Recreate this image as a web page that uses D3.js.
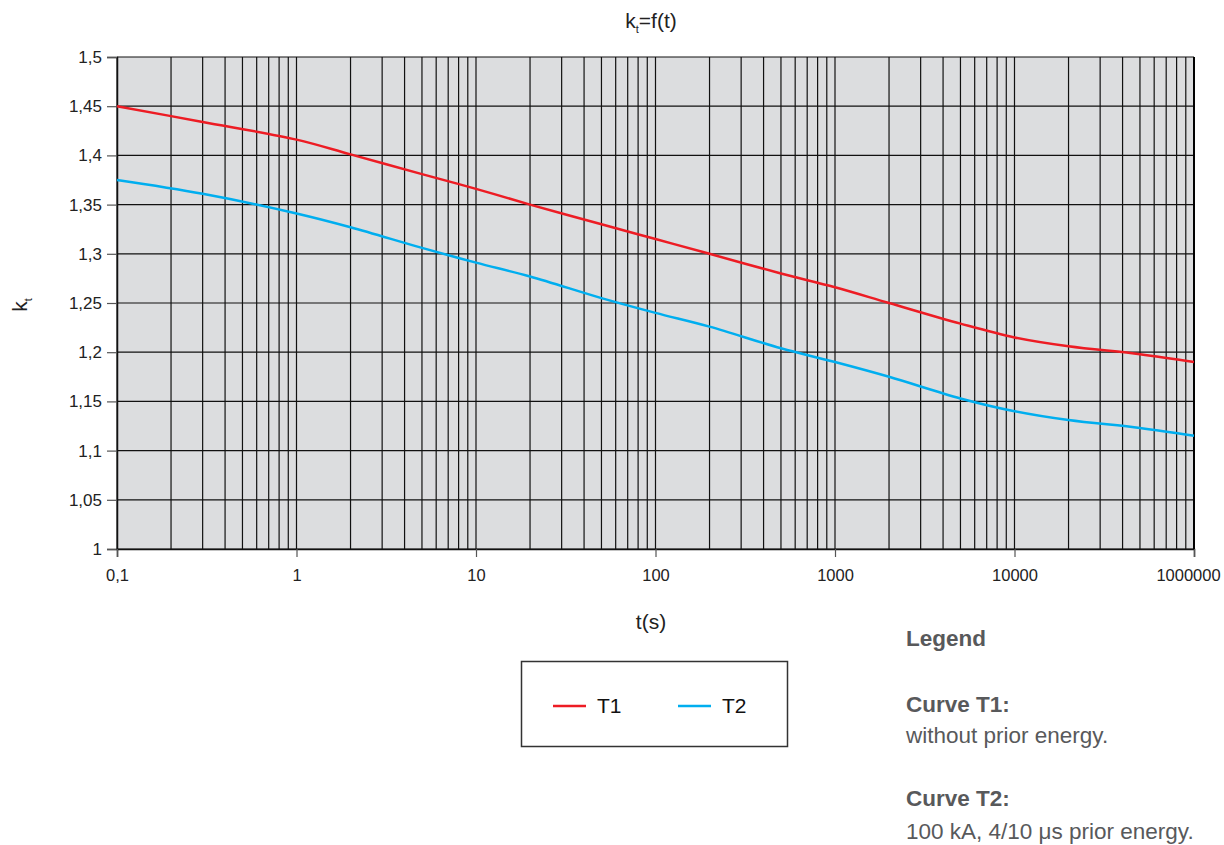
<!DOCTYPE html>
<html>
<head>
<meta charset="utf-8">
<script src="https://cdn.jsdelivr.net/npm/d3@7"></script>
<style>
  body { margin: 0; background: #fff; }
  svg text { font-family: "Liberation Sans", Arial, sans-serif; }
</style>
</head>
<body>
<svg id="chart" width="1224" height="845"></svg>
<script>
// time points (s) and the two curves
const times = [0.1, 0.3, 1, 2, 5, 10, 20, 50, 100, 200, 500, 1000, 2000, 5000, 10000, 20000, 50000, 100000];
const t1 = [1.45, 1.434, 1.416, 1.401, 1.381, 1.366, 1.350, 1.330, 1.315, 1.300, 1.280, 1.266, 1.250, 1.229, 1.215, 1.206, 1.198, 1.190];
const t2 = [1.375, 1.361, 1.341, 1.327, 1.306, 1.291, 1.277, 1.255, 1.240, 1.226, 1.204, 1.190, 1.175, 1.153, 1.140, 1.131, 1.123, 1.115];

const xTickValues = [0.1, 1, 10, 100, 1000, 10000, 100000];
const xTickLabels = ['0,1', '1', '10', '100', '1000', '10000', '1000000'];
const yTickValues = [1, 1.05, 1.1, 1.15, 1.2, 1.25, 1.3, 1.35, 1.4, 1.45, 1.5];
const yTickLabels = ['1', '1,05', '1,1', '1,15', '1,2', '1,25', '1,3', '1,35', '1,4', '1,45', '1,5'];

const seriesNames = ['T1', 'T2'];
const seriesColors = ['#ed1c24', '#00aeef'];

const margin = {top: 57, left: 117};
const width = 1194 - 117, height = 549 - 57;

const svg = d3.select('#chart');

const x = d3.scaleLog().domain([0.1, 100000]).range([0, width]);
const y = d3.scaleLinear().domain([1, 1.5]).range([height, 0]);

const g = svg.append('g').attr('transform', `translate(${margin.left},${margin.top})`);

g.append('rect')
  .attr('width', width).attr('height', height)
  .attr('fill', '#dcdddf');

// minor + major vertical grid
let gridX = [];
for (let e = -1; e < 5; e++) {
  for (let m = 1; m < 10; m++) gridX.push(m * Math.pow(10, e));
}
gridX.push(100000);

g.selectAll('.vgrid')
  .data(gridX)
  .enter().append('line')
  .attr('class', 'vgrid')
  .attr('x1', d => x(d)).attr('x2', d => x(d))
  .attr('y1', 0).attr('y2', height)
  .attr('stroke', '#111')
  .attr('stroke-width', 1.2);

g.selectAll('.hgrid')
  .data(yTickValues)
  .enter().append('line')
  .attr('class', 'hgrid')
  .attr('x1', 0).attr('x2', width)
  .attr('y1', d => y(d)).attr('y2', d => y(d))
  .attr('stroke', '#111')
  .attr('stroke-width', 1.2);

// axes
const yAxis = g.append('g')
  .call(d3.axisLeft(y).tickValues(yTickValues).tickFormat((d, i) => yTickLabels[i]).tickSize(10).tickPadding(5));
yAxis.select('.domain').attr('stroke', '#111').attr('stroke-width', 1.5);
yAxis.selectAll('.tick line').attr('stroke', '#555').attr('stroke-width', 1.2);
yAxis.selectAll('text').attr('font-size', 17).attr('fill', '#222');

const xAxis = g.append('g')
  .attr('transform', `translate(0,${height})`)
  .call(d3.axisBottom(x).tickValues(xTickValues).tickFormat((d, i) => xTickLabels[i]).tickSize(8).tickPadding(12));
xAxis.select('.domain').attr('stroke', '#111').attr('stroke-width', 1.5);
xAxis.selectAll('.tick line').attr('stroke', '#555').attr('stroke-width', 1.2);
xAxis.selectAll('text').attr('font-size', 16.5).attr('fill', '#222');
// last label sits at the right edge, nudge it in so it stays on the page
xAxis.selectAll('.tick').filter(d => d === 100000).select('text').attr('dx', -6);

g.append('line')
  .attr('x1', width).attr('x2', width).attr('y1', 0).attr('y2', height)
  .attr('stroke', '#000').attr('stroke-width', 2);

// curves
const line = d3.line()
  .x(d => x(d[0]))
  .y(d => y(d[1]))
  .curve(d3.curveCatmullRom.alpha(0.5));

[t1, t2].forEach((vals, i) => {
  g.append('path')
    .datum(times.map((t, j) => [t, vals[j]]))
    .attr('fill', 'none')
    .attr('stroke', seriesColors[i])
    .attr('stroke-width', 2.5)
    .attr('d', line);
});

// title and axis labels
const title = svg.append('text')
  .attr('x', 651).attr('y', 28)
  .attr('text-anchor', 'middle')
  .attr('font-size', 21).attr('fill', '#222');
title.append('tspan').text('k');
title.append('tspan').attr('font-size', 11).attr('dy', 5).text('t');
title.append('tspan').attr('dy', -5).text('=f(t)');

const ylab = svg.append('text')
  .attr('transform', 'translate(27,305) rotate(-90)')
  .attr('text-anchor', 'middle')
  .attr('font-size', 21).attr('fill', '#222');
ylab.append('tspan').text('k');
ylab.append('tspan').attr('font-size', 11).attr('dy', 5).text('t');

svg.append('text')
  .attr('x', 651).attr('y', 629)
  .attr('text-anchor', 'middle')
  .attr('font-size', 21).attr('fill', '#222')
  .text('t(s)');

// legend box
svg.append('rect')
  .attr('x', 521.5).attr('y', 661.5).attr('width', 266).attr('height', 85)
  .attr('fill', 'none').attr('stroke', '#333').attr('stroke-width', 1.5);

const legendX = [553, 678];
seriesNames.forEach((name, i) => {
  svg.append('line')
    .attr('x1', legendX[i]).attr('x2', legendX[i] + 33)
    .attr('y1', 706).attr('y2', 706)
    .attr('stroke', seriesColors[i]).attr('stroke-width', 2.5);
  svg.append('text')
    .attr('x', legendX[i] + 44).attr('y', 713)
    .attr('font-size', 21).attr('fill', '#111')
    .text(name);
});

// notes on the right
const notes = [
  {text: 'Legend', y: 646, bold: true},
  {text: 'Curve T1:', y: 712, bold: true},
  {text: 'without prior energy.', y: 743, bold: false},
  {text: 'Curve T2:', y: 806, bold: true},
  {text: '100 kA, 4/10 μs prior energy.', y: 839, bold: false}
];
svg.selectAll('.note')
  .data(notes)
  .enter().append('text')
  .attr('class', 'note')
  .attr('x', 906).attr('y', d => d.y)
  .attr('font-size', 22.5)
  .attr('font-weight', d => d.bold ? 'bold' : 'normal')
  .attr('fill', '#58595b')
  .text(d => d.text);
</script>
</body>
</html>
